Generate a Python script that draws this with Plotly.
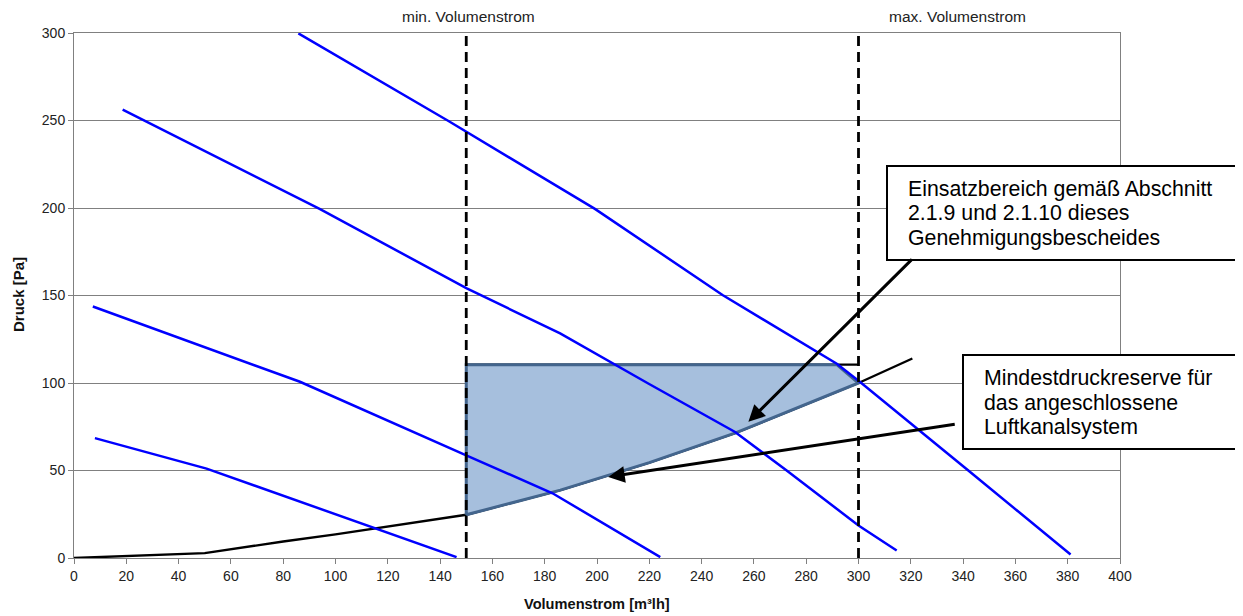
import plotly.graph_objects as go

# ---------------- data ----------------
kurve1_x = [8.0, 50.7, 146.3]
kurve1_y = [68.5, 51.1, 0.5]

kurve2_x = [7.2, 86.4, 150.0, 183.0, 224.2]
kurve2_y = [143.7, 100.7, 58.7, 37.0, 0.5]

kurve3_x = [18.6, 94.1, 150.2, 185.9, 219.6, 252.8, 272.4, 300.0, 314.6]
kurve3_y = [256.2, 199.3, 154.1, 128.3, 99.7, 72.0, 50.1, 18.6, 4.3]

kurve4_x = [85.8, 143.2, 199.2, 248.0, 291.7, 300.6, 342.0, 381.1]
kurve4_y = [299.8, 249.7, 199.5, 150.3, 111.0, 100.6, 50.0, 2.0]

anlage_x = [0, 50, 80, 100, 150, 186, 220, 253, 300, 320.6]
anlage_y = [0, 2.8, 9.4, 13.5, 24.7, 38.8, 54.5, 71.5, 100, 114.0]

bereich_x = [150, 150, 291.7, 300, 253, 220, 186, 150]
bereich_y = [24.7, 110.5, 110.5, 100, 71.5, 54.5, 38.8, 24.7]

oben_x = [150, 300]
oben_y = [110.5, 110.5]

v_min = 150
v_max = 300

x_ticks = list(range(0, 401, 20))
y_ticks = list(range(0, 301, 50))

label_min = "min. Volumenstrom"
label_max = "max. Volumenstrom"
box1_lines = ["Einsatzbereich gemäß Abschnitt", "2.1.9 und 2.1.10 dieses", "Genehmigungsbescheides"]
box2_lines = ["Mindestdruckreserve für", "das angeschlossene", "Luftkanalsystem"]
pfeil1_spitze = (257.9, 77.8)
pfeil2_spitze = (204.3, 46.3)

# ---------------- layout geometry (page pixels, body margin 8px) ----------------
OFF = 8
W, H = 1235, 608
PLOT_L, PLOT_R, PLOT_T, PLOT_B = 74, 1120, 33, 558   # page pixels
ML = PLOT_L - OFF
MT = PLOT_T - OFF
PW = PLOT_R - PLOT_L
PH = PLOT_B - PLOT_T
MR = W - ML - PW
MB = H - MT - PH

def px2paper_x(px):
    return (px - PLOT_L) / PW

def px2paper_y(py):
    return (PLOT_B - py) / PH

FONT = "Liberation Sans, Arial, sans-serif"
BLUE = "#0000ff"

fig = go.Figure()

# system curve (black)
fig.add_trace(go.Scatter(x=anlage_x, y=anlage_y, mode="lines",
                         line=dict(color="black", width=2.4), hoverinfo="skip"))
fig.add_trace(go.Scatter(x=oben_x, y=oben_y, mode="lines",
                         line=dict(color="black", width=2.4), hoverinfo="skip"))
# operating range polygon
fig.add_trace(go.Scatter(x=bereich_x, y=bereich_y, mode="lines", fill="toself",
                         fillcolor="#a6bfdd", line=dict(color="#43658d", width=3),
                         hoverinfo="skip"))
# fan curves
for xs, ys in [(kurve1_x, kurve1_y), (kurve2_x, kurve2_y),
               (kurve3_x, kurve3_y), (kurve4_x, kurve4_y)]:
    fig.add_trace(go.Scatter(x=xs, y=ys, mode="lines",
                             line=dict(color=BLUE, width=2.5), hoverinfo="skip"))
# dashed min/max lines
for v in (v_min, v_max):
    fig.add_trace(go.Scatter(x=[v, v], y=[y_ticks[0], y_ticks[-1]], mode="lines",
                             line=dict(color="black", width=2.8, dash="10px,6px"),
                             hoverinfo="skip"))

shapes = []
annotations = []

# top labels
annotations.append(dict(x=151, y=px2paper_y(17), xref="x", yref="paper",
                        text=label_min, showarrow=False,
                        font=dict(family=FONT, size=15.5, color="#222"),
                        xanchor="center", yanchor="middle"))
annotations.append(dict(x=338, y=px2paper_y(17), xref="x", yref="paper",
                        text=label_max, showarrow=False,
                        font=dict(family=FONT, size=15.5, color="#222"),
                        xanchor="center", yanchor="middle"))

# axis titles
annotations.append(dict(x=px2paper_x(18), y=px2paper_y(295), xref="paper", yref="paper",
                        text="<b>Druck [Pa]</b>", textangle=-90, showarrow=False,
                        font=dict(family=FONT, size=15, color="#111"),
                        xanchor="center", yanchor="middle"))
annotations.append(dict(x=0.5, y=px2paper_y(604), xref="paper", yref="paper",
                        text="<b>Volumenstrom [m³lh]</b>", showarrow=False,
                        font=dict(family=FONT, size=14.6, color="#111"),
                        xanchor="center", yanchor="middle"))

# arrows
annotations.append(dict(x=pfeil1_spitze[0], y=pfeil1_spitze[1], xref="x", yref="y",
                        ax=165, ay=-164, text="", showarrow=True, arrowhead=2,
                        arrowsize=1.1, arrowwidth=3, arrowcolor="black", standoff=0))
annotations.append(dict(x=pfeil2_spitze[0], y=pfeil2_spitze[1], xref="x", yref="y",
                        ax=348, ay=-53, text="", showarrow=True, arrowhead=2,
                        arrowsize=1.1, arrowwidth=3, arrowcolor="black", standoff=0))

# text boxes
def add_box(x0, y0, x1, y1, lines, text_x, line_ys):
    shapes.append(dict(type="rect", xref="paper", yref="paper",
                       x0=px2paper_x(x0), x1=px2paper_x(x1),
                       y0=px2paper_y(y1), y1=px2paper_y(y0),
                       line=dict(color="black", width=2), fillcolor="white",
                       layer="above"))
    for txt, ly in zip(lines, line_ys):
        annotations.append(dict(x=px2paper_x(text_x), y=px2paper_y(ly),
                                xref="paper", yref="paper", text=txt,
                                showarrow=False, xanchor="left", yanchor="middle",
                                font=dict(family=FONT, size=21.3, color="black")))

add_box(887, 166, 1239, 260, box1_lines, 906, [188.7, 213.3, 237.7])
add_box(963, 355, 1240, 449, box2_lines, 982, [378.3, 402.7, 426.7])

fig.update_layout(
    width=W, height=H,
    margin=dict(l=ML, r=MR, t=MT, b=MB, pad=0),
    paper_bgcolor="white", plot_bgcolor="white",
    showlegend=False,
    shapes=shapes, annotations=annotations,
    font=dict(family=FONT, size=14, color="#222"),
    xaxis=dict(range=[0, 400], tickvals=x_ticks, ticks="outside", ticklen=5,
               tickcolor="#808080", showgrid=False, zeroline=False,
               showline=True, linecolor="#808080", linewidth=1, mirror=True,
               tickfont=dict(family=FONT, size=14, color="#222")),
    yaxis=dict(range=[0, 300], tickvals=y_ticks, ticks="outside", ticklen=5,
               tickcolor="#808080", showgrid=True, gridcolor="#808080", gridwidth=1,
               zeroline=False, showline=True, linecolor="#808080", linewidth=1,
               mirror=True, tickfont=dict(family=FONT, size=14, color="#222")),
)

fig.write_html("out.html")
